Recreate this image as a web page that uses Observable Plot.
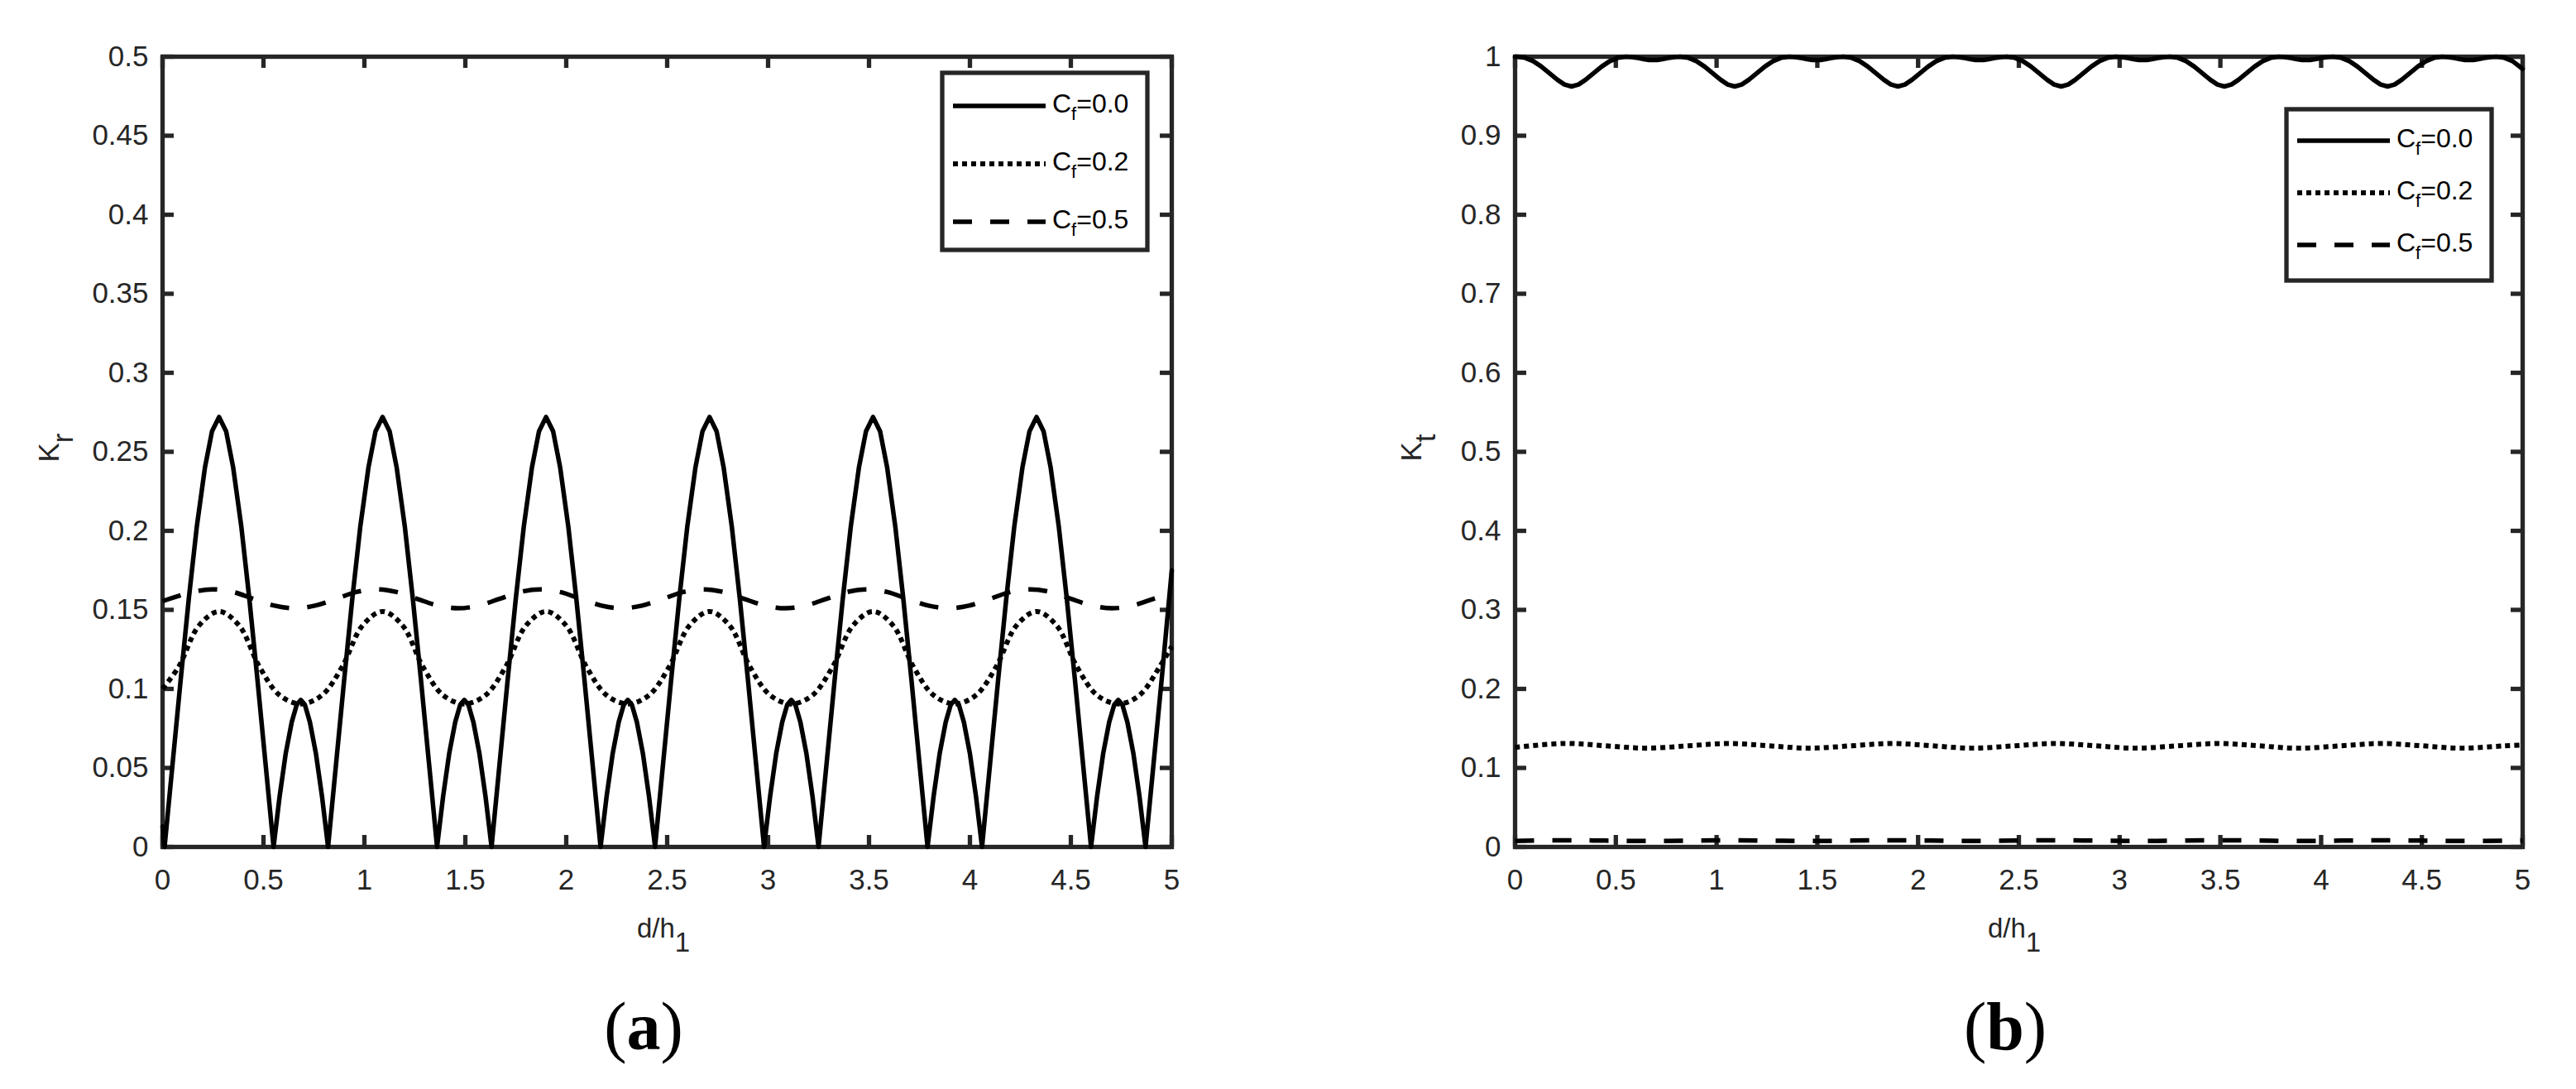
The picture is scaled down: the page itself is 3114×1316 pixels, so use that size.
<!DOCTYPE html>
<html><head><meta charset="utf-8">
<script src="https://cdn.jsdelivr.net/npm/d3@7"></script>
<script src="https://cdn.jsdelivr.net/npm/@observablehq/plot@0.6"></script>
<style>
html,body{margin:0;padding:0;background:#fff;}
#root{position:relative;width:3114px;height:1316px;overflow:hidden;background:#fff;}
.panel{position:absolute;top:0;}
.cap{position:absolute;top:1200px;width:300px;text-align:center;font-family:"Liberation Serif","Times New Roman",serif;font-size:82px;line-height:1;color:#000;}
</style></head><body><div id="root"></div>
<script>
// ---------- data ----------
const xTicks = [0, 0.5, 1, 1.5, 2, 2.5, 3, 3.5, 4, 4.5, 5];
const yTicksA = [0, 0.05, 0.1, 0.15, 0.2, 0.25, 0.3, 0.35, 0.4, 0.45, 0.5];
const yTicksB = [0, 0.1, 0.2, 0.3, 0.4, 0.5, 0.6, 0.7, 0.8, 0.9, 1];
const legendLabels = ["0.0", "0.2", "0.5"];

// Cf = 0.0 (shared x positions for Kr and Kt)
const cf0X = [
  0, 0.01, 0.05, 0.09, 0.13, 0.17, 0.21, 0.245, 0.28, 0.315, 0.35, 0.39, 0.43, 0.47, 0.51, 0.55,
  0.58, 0.61, 0.64, 0.665, 0.685, 0.705, 0.73, 0.76, 0.79, 0.82,
  0.86, 0.90, 0.94, 0.98, 1.02, 1.055, 1.09, 1.125, 1.16, 1.20, 1.24, 1.28, 1.32, 1.36,
  1.39, 1.42, 1.45, 1.475, 1.495, 1.515, 1.54, 1.57, 1.60, 1.63,
  1.67, 1.71, 1.75, 1.79, 1.83, 1.865, 1.90, 1.935, 1.97, 2.01, 2.05, 2.09, 2.13, 2.17,
  2.20, 2.23, 2.26, 2.285, 2.305, 2.325, 2.35, 2.38, 2.41, 2.44,
  2.48, 2.52, 2.56, 2.60, 2.64, 2.675, 2.71, 2.745, 2.78, 2.82, 2.86, 2.90, 2.94, 2.98,
  3.01, 3.04, 3.07, 3.095, 3.115, 3.135, 3.16, 3.19, 3.22, 3.25,
  3.29, 3.33, 3.37, 3.41, 3.45, 3.485, 3.52, 3.555, 3.59, 3.63, 3.67, 3.71, 3.75, 3.79,
  3.82, 3.85, 3.88, 3.905, 3.925, 3.945, 3.97, 4.00, 4.03, 4.06,
  4.10, 4.14, 4.18, 4.22, 4.26, 4.295, 4.33, 4.365, 4.40, 4.44, 4.48, 4.52, 4.56, 4.60,
  4.63, 4.66, 4.69, 4.715, 4.735, 4.755, 4.78, 4.81, 4.84, 4.87,
  4.91, 4.95, 5.0
];
const kr0Y = [
  0.013, 0, 0.053, 0.106, 0.157, 0.203, 0.240, 0.263, 0.272, 0.263, 0.240, 0.203, 0.157, 0.106, 0.053, 0,
  0.032, 0.059, 0.079, 0.090, 0.093, 0.090, 0.079, 0.059, 0.032, 0,
  0.053, 0.106, 0.157, 0.203, 0.240, 0.263, 0.272, 0.263, 0.240, 0.203, 0.157, 0.106, 0.053, 0,
  0.032, 0.059, 0.079, 0.090, 0.093, 0.090, 0.079, 0.059, 0.032, 0,
  0.053, 0.106, 0.157, 0.203, 0.240, 0.263, 0.272, 0.263, 0.240, 0.203, 0.157, 0.106, 0.053, 0,
  0.032, 0.059, 0.079, 0.090, 0.093, 0.090, 0.079, 0.059, 0.032, 0,
  0.053, 0.106, 0.157, 0.203, 0.240, 0.263, 0.272, 0.263, 0.240, 0.203, 0.157, 0.106, 0.053, 0,
  0.032, 0.059, 0.079, 0.090, 0.093, 0.090, 0.079, 0.059, 0.032, 0,
  0.053, 0.106, 0.157, 0.203, 0.240, 0.263, 0.272, 0.263, 0.240, 0.203, 0.157, 0.106, 0.053, 0,
  0.032, 0.059, 0.079, 0.090, 0.093, 0.090, 0.079, 0.059, 0.032, 0,
  0.053, 0.106, 0.157, 0.203, 0.240, 0.263, 0.272, 0.263, 0.240, 0.203, 0.157, 0.106, 0.053, 0,
  0.032, 0.059, 0.079, 0.090, 0.093, 0.090, 0.079, 0.059, 0.032, 0,
  0.053, 0.106, 0.175
];
const kt0Y = [
  0.9999, 1, 0.9986, 0.9944, 0.9876, 0.9792, 0.9708, 0.9648, 0.9623, 0.9648, 0.9708, 0.9792, 0.9876, 0.9944, 0.9986, 1,
  0.9995, 0.9983, 0.9969, 0.9959, 0.9957, 0.9959, 0.9969, 0.9983, 0.9995, 1,
  0.9986, 0.9944, 0.9876, 0.9792, 0.9708, 0.9648, 0.9623, 0.9648, 0.9708, 0.9792, 0.9876, 0.9944, 0.9986, 1,
  0.9995, 0.9983, 0.9969, 0.9959, 0.9957, 0.9959, 0.9969, 0.9983, 0.9995, 1,
  0.9986, 0.9944, 0.9876, 0.9792, 0.9708, 0.9648, 0.9623, 0.9648, 0.9708, 0.9792, 0.9876, 0.9944, 0.9986, 1,
  0.9995, 0.9983, 0.9969, 0.9959, 0.9957, 0.9959, 0.9969, 0.9983, 0.9995, 1,
  0.9986, 0.9944, 0.9876, 0.9792, 0.9708, 0.9648, 0.9623, 0.9648, 0.9708, 0.9792, 0.9876, 0.9944, 0.9986, 1,
  0.9995, 0.9983, 0.9969, 0.9959, 0.9957, 0.9959, 0.9969, 0.9983, 0.9995, 1,
  0.9986, 0.9944, 0.9876, 0.9792, 0.9708, 0.9648, 0.9623, 0.9648, 0.9708, 0.9792, 0.9876, 0.9944, 0.9986, 1,
  0.9995, 0.9983, 0.9969, 0.9959, 0.9957, 0.9959, 0.9969, 0.9983, 0.9995, 1,
  0.9986, 0.9944, 0.9876, 0.9792, 0.9708, 0.9648, 0.9623, 0.9648, 0.9708, 0.9792, 0.9876, 0.9944, 0.9986, 1,
  0.9995, 0.9983, 0.9969, 0.9959, 0.9957, 0.9959, 0.9969, 0.9983, 0.9995, 1,
  0.9986, 0.9944, 0.9846
];

// Cf = 0.2, panel (a)
const kr2X = [0, 0.08, 0.18, 0.28, 0.38, 0.48, 0.58, 0.685, 0.79,
  0.89, 0.99, 1.09, 1.19, 1.29, 1.39, 1.495, 1.60,
  1.70, 1.80, 1.90, 2.00, 2.10, 2.20, 2.305, 2.41,
  2.51, 2.61, 2.71, 2.81, 2.91, 3.01, 3.115, 3.22,
  3.32, 3.42, 3.52, 3.62, 3.72, 3.82, 3.925, 4.03,
  4.13, 4.23, 4.33, 4.43, 4.53, 4.63, 4.735, 4.84,
  4.94, 5.0];
const kr2Y = [0.100, 0.114, 0.140, 0.149, 0.140, 0.114, 0.096, 0.0905, 0.096,
  0.114, 0.140, 0.149, 0.140, 0.114, 0.096, 0.0905, 0.096,
  0.114, 0.140, 0.149, 0.140, 0.114, 0.096, 0.0905, 0.096,
  0.114, 0.140, 0.149, 0.140, 0.114, 0.096, 0.0905, 0.096,
  0.114, 0.140, 0.149, 0.140, 0.114, 0.096, 0.0905, 0.096,
  0.114, 0.140, 0.149, 0.140, 0.114, 0.096, 0.0905, 0.096,
  0.114, 0.127];

// Cf = 0.5, panel (a)
const kr5X = [0, 0.15, 0.25, 0.35, 0.45, 0.555, 0.655, 0.755,
  0.86, 0.96, 1.06, 1.16, 1.26, 1.365, 1.465, 1.565,
  1.67, 1.77, 1.87, 1.97, 2.07, 2.175, 2.275, 2.375,
  2.48, 2.58, 2.68, 2.78, 2.88, 2.985, 3.085, 3.185,
  3.29, 3.39, 3.49, 3.59, 3.69, 3.795, 3.895, 3.995,
  4.10, 4.20, 4.30, 4.40, 4.50, 4.605, 4.705, 4.805,
  4.91, 5.0];
const kr5Y = [0.1555, 0.1613, 0.163, 0.1613, 0.157, 0.1527, 0.151, 0.1527,
  0.157, 0.1613, 0.163, 0.1613, 0.157, 0.1527, 0.151, 0.1527,
  0.157, 0.1613, 0.163, 0.1613, 0.157, 0.1527, 0.151, 0.1527,
  0.157, 0.1613, 0.163, 0.1613, 0.157, 0.1527, 0.151, 0.1527,
  0.157, 0.1613, 0.163, 0.1613, 0.157, 0.1527, 0.151, 0.1527,
  0.157, 0.1613, 0.163, 0.1613, 0.157, 0.1527, 0.151, 0.1527,
  0.157, 0.1605];

// Cf = 0.2 and 0.5, panel (b)
const ktX = [0, 0.25, 0.45, 0.65,
  0.86, 1.06, 1.26, 1.46,
  1.67, 1.87, 2.07, 2.27,
  2.48, 2.68, 2.88, 3.08,
  3.29, 3.49, 3.69, 3.89,
  4.10, 4.30, 4.50, 4.70,
  4.91, 5.0];
const kt2Y = [0.126, 0.131, 0.128, 0.125,
  0.128, 0.131, 0.128, 0.125,
  0.128, 0.131, 0.128, 0.125,
  0.128, 0.131, 0.128, 0.125,
  0.128, 0.131, 0.128, 0.125,
  0.128, 0.131, 0.128, 0.125,
  0.128, 0.129];
const kt5Y = [0.0076, 0.0085, 0.0080, 0.0075,
  0.0080, 0.0085, 0.0080, 0.0075,
  0.0080, 0.0085, 0.0080, 0.0075,
  0.0080, 0.0085, 0.0080, 0.0075,
  0.0080, 0.0085, 0.0080, 0.0075,
  0.0080, 0.0085, 0.0080, 0.0075,
  0.0080, 0.0082];

// ---------- drawing ----------
const AX = "#262626";
const FONT = '"Liberation Sans", Arial, Helvetica, sans-serif';
const W = 1557, H = 1180, MT = 68, MB = 157;
const STYLES = [
  {dash: null, width: 5.5, curve: "linear"},
  {dash: "6,5", width: 6, curve: "catmull-rom"},
  {dash: "23,22", width: 5.5, curve: "catmull-rom"}
];
const zipXY = (xs, ys) => xs.map((x, i) => ({x, y: ys[i]}));

function panel(cfg) {
  const innerW = W - cfg.ml - cfg.mr, innerH = H - MT - MB, TK = 14;
  const marks = [
    Plot.frame({stroke: AX, strokeWidth: 5.3}),
    Plot.tickX(xTicks, {x: d => d, insetTop: innerH - TK, stroke: AX, strokeWidth: 5.3, strokeLinecap: "butt"}),
    Plot.tickX(xTicks, {x: d => d, insetBottom: innerH - TK, stroke: AX, strokeWidth: 5.3, strokeLinecap: "butt"}),
    Plot.tickY(cfg.yTicks, {y: d => d, insetRight: innerW - TK, stroke: AX, strokeWidth: 5.3, strokeLinecap: "butt"}),
    Plot.tickY(cfg.yTicks, {y: d => d, insetLeft: innerW - TK, stroke: AX, strokeWidth: 5.3, strokeLinecap: "butt"}),
    Plot.axisX({ticks: xTicks, tickSize: 0, tickPadding: 27, tickFormat: d => String(d), label: null}),
    Plot.axisY({ticks: cfg.yTicks, tickSize: 0, tickPadding: 17, tickFormat: d => String(d), label: null})
  ];
  cfg.series.forEach((s, i) => {
    const st = STYLES[i];
    marks.push(Plot.line(s, {x: "x", y: "y", stroke: "#000", strokeWidth: st.width,
      strokeDasharray: st.dash, strokeLinecap: st.dash ? "butt" : "round", strokeLinejoin: "round", curve: st.curve}));
  });
  const svg = Plot.plot({
    width: W, height: H, marginLeft: cfg.ml, marginRight: cfg.mr, marginTop: MT, marginBottom: MB,
    x: {domain: [0, 5], label: null},
    y: {domain: cfg.yDomain, label: null},
    style: {fontFamily: FONT, fontSize: "35px", color: AX, background: "#fff", overflow: "visible"},
    marks
  });
  const s = d3.select(svg);
  // y label
  const yl = s.append("text").attr("transform", `translate(${cfg.ylx},${cfg.yly}) rotate(-90)`)
    .attr("text-anchor", "middle").attr("fill", AX).attr("font-family", FONT).attr("font-size", 35);
  yl.append("tspan").text("K");
  yl.append("tspan").attr("dy", 17).text(cfg.ysub);
  // x label
  const xl = s.append("text").attr("x", cfg.xlx).attr("y", 1133)
    .attr("text-anchor", "middle").attr("fill", AX).attr("font-family", FONT).attr("font-size", 33);
  xl.append("tspan").text("d/h");
  xl.append("tspan").attr("dy", 17).text("1");
  // legend
  const g = s.append("g");
  const bx = cfg.lx, by = cfg.ly, bw = 248, bh = cfg.lh;
  g.append("rect").attr("x", bx).attr("y", by).attr("width", bw).attr("height", bh)
    .attr("fill", "#fff").attr("stroke", AX).attr("stroke-width", 5.3);
  legendLabels.forEach((lab, i) => {
    const yy = by + cfg.lr0 + i * cfg.lrs;
    const st = STYLES[i];
    g.append("line").attr("x1", bx + 13).attr("x2", bx + 125).attr("y1", yy).attr("y2", yy)
      .attr("stroke", "#000").attr("stroke-width", st.width).attr("stroke-dasharray", st.dash)
      .attr("stroke-linecap", "butt");
    const t = g.append("text").attr("x", bx + 133).attr("y", yy + 8).attr("text-anchor", "start")
      .attr("fill", "#000").attr("font-family", FONT).attr("font-size", 32);
    t.append("tspan").text("C");
    t.append("tspan").attr("font-size", 22).attr("dy", 9).text("f");
    t.append("tspan").attr("dy", -9).text("=" + lab);
  });
  const wrap = document.createElement("div");
  wrap.className = "panel";
  wrap.style.left = cfg.left + "px";
  wrap.appendChild(svg);
  return wrap;
}

const root = document.getElementById("root");
root.appendChild(panel({
  left: 0, ml: 196, mr: W - 1416, yDomain: [0, 0.5], yTicks: yTicksA,
  series: [zipXY(cf0X, kr0Y), zipXY(kr2X, kr2Y), zipXY(kr5X, kr5Y)],
  ylx: 71, yly: 541, ysub: "r", xlx: 802,
  lx: 1139, ly: 88, lh: 214, lr0: 40, lrs: 70
}));
root.appendChild(panel({
  left: 1557, ml: 274, mr: 65, yDomain: [0, 1], yTicks: yTicksB,
  series: [zipXY(cf0X, kt0Y), zipXY(ktX, kt2Y), zipXY(ktX, kt5Y)],
  ylx: 161, yly: 541, ysub: "t", xlx: 878,
  lx: 1207, ly: 132, lh: 207, lr0: 38, lrs: 63
}));
[["a", 778], ["b", 2424]].forEach(([l, cx]) => {
  const d = document.createElement("div");
  d.className = "cap";
  d.style.left = (cx - 150) + "px";
  d.innerHTML = "(<b>" + l + "</b>)";
  root.appendChild(d);
});
</script></body></html>
